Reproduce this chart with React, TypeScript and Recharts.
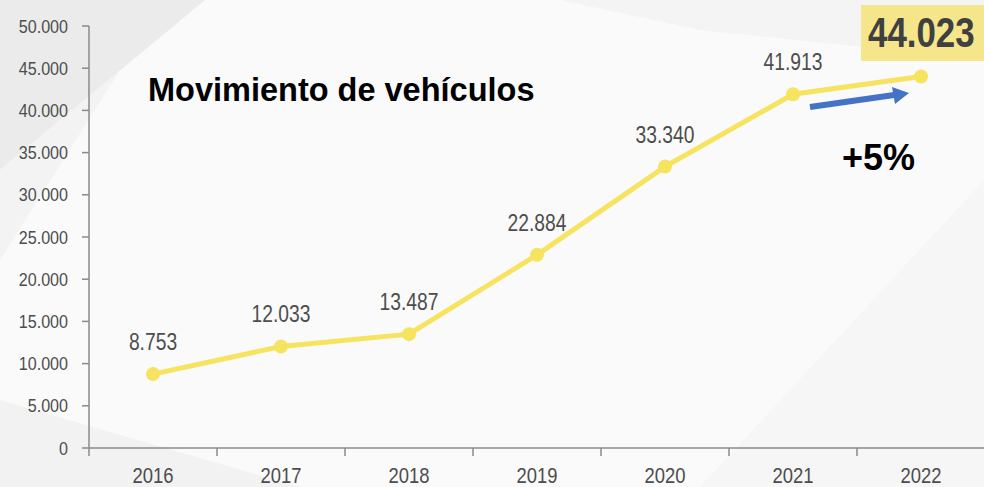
import React from 'react';
import { LineChart, Line, XAxis, YAxis, LabelList } from 'recharts';

const years = ['2016', '2017', '2018', '2019', '2020', '2021', '2022'];
const vehicles = [8753, 12033, 13487, 22884, 33340, 41913, 44023];
const yTicks = [0, 5000, 10000, 15000, 20000, 25000, 30000, 35000, 40000, 45000, 50000];
const growthLabel = '+5%';
const chartTitle = 'Movimiento de vehículos';

const data = years.map((year, i) => ({ year, value: vehicles[i] }));

const W = 984;
const H = 487;
const HALF_BAND = 64;
const FONT = "'Liberation Sans', Arial, sans-serif";
const NARROW = 0.82;
const LINE_COLOR = '#F6E35F';
const AXIS_COLOR = '#8A8A8A';
const TEXT_COLOR = '#4D4D4D';

const fmt = (v: number) => String(v).replace(/\B(?=(\d{3})+(?!\d))/g, '.');

// condensed text: regular font squeezed horizontally
const NarrowText = ({ x, y, size, sx, anchor, children, dy }: any) => (
  <text
    transform={`translate(${x},${y}) scale(${sx},1)`}
    textAnchor={anchor}
    dy={dy}
    fill={TEXT_COLOR}
    fontSize={size}
    fontFamily={FONT}
  >
    {children}
  </text>
);

const XTick = (props: any) => {
  const { x, y, payload, index } = props;
  return (
    <g>
      <line x1={x - HALF_BAND} x2={x - HALF_BAND} y1={y} y2={y + 8} stroke={AXIS_COLOR} strokeWidth={1.5} />
      {index === years.length - 1 && (
        <line x1={x + HALF_BAND} x2={x + HALF_BAND} y1={y} y2={y + 8} stroke={AXIS_COLOR} strokeWidth={1.5} />
      )}
      <NarrowText x={x} y={y + 35} size={22.5} sx={NARROW} anchor="middle">
        {payload.value}
      </NarrowText>
    </g>
  );
};

const YTick = (props: any) => {
  const { x, y, payload } = props;
  return (
    <NarrowText x={x} y={y} size={18.5} sx={0.87} anchor="end" dy="0.355em">
      {fmt(payload.value)}
    </NarrowText>
  );
};

const PointLabel = (props: any) => {
  const { x, y, value, index } = props;
  if (index === vehicles.length - 1) return null;
  return (
    <NarrowText x={x} y={y - 24} size={23.5} sx={NARROW} anchor="middle">
      {fmt(value)}
    </NarrowText>
  );
};

export default function App() {
  return (
    <div style={{ position: 'absolute', left: 0, top: 0, width: W, height: H, overflow: 'hidden', background: '#FAFAFA' }}>
      <svg width={W} height={H} style={{ position: 'absolute', left: 0, top: 0 }}>
        <polygon points="0,0 205,0 0,170" fill="#EBEBEB" />
        <polygon points="0,170 120,70 0,260" fill="#F3F3F3" />
        <polygon points="560,0 984,0 984,60 700,30" fill="#F4F4F4" />
        <polygon points="0,487 0,400 300,487" fill="#F2F2F2" />
        <polygon points="984,487 984,180 700,487" fill="#F6F6F6" />
      </svg>
      <div style={{ position: 'absolute', left: 0, top: 0 }}>
        <LineChart width={W + 1} height={H} data={data} margin={{ top: 26, right: 0, bottom: 0, left: 0 }}>
          <XAxis
            dataKey="year"
            padding={{ left: HALF_BAND, right: HALF_BAND }}
            height={39}
            axisLine={{ stroke: AXIS_COLOR, strokeWidth: 1.5 }}
            tickLine={false}
            tickSize={0}
            tickMargin={0}
            tick={<XTick />}
            interval={0}
          />
          <YAxis
            width={89}
            domain={[0, 50000]}
            ticks={yTicks}
            axisLine={{ stroke: AXIS_COLOR, strokeWidth: 1.5 }}
            tickLine={{ stroke: AXIS_COLOR, strokeWidth: 1.5 }}
            tickSize={7}
            tickMargin={14}
            tick={<YTick />}
            interval={0}
          />
          <Line
            dataKey="value"
            stroke={LINE_COLOR}
            strokeWidth={5}
            dot={{ r: 7, fill: LINE_COLOR, stroke: LINE_COLOR, strokeWidth: 0 }}
            activeDot={false}
            isAnimationActive={false}
          >
            <LabelList dataKey="value" content={<PointLabel />} />
          </Line>
        </LineChart>
      </div>
      <div
        style={{
          position: 'absolute', left: 148, top: 70, fontFamily: FONT,
          fontWeight: 700, fontSize: 32.5, color: '#000', whiteSpace: 'nowrap', lineHeight: '40px',
        }}
      >
        {chartTitle}
      </div>
      <div
        style={{
          position: 'absolute', left: 861, top: 5, width: 130, height: 56, background: '#F5E68C',
          boxSizing: 'border-box', overflow: 'hidden',
        }}
      >
        <span
          style={{
            position: 'absolute', left: 7, top: 4, fontFamily: FONT, fontWeight: 700, fontSize: 42,
            lineHeight: '48px', color: '#404040', transform: 'scaleX(0.83)', transformOrigin: 'left center',
            whiteSpace: 'nowrap',
          }}
        >
          {fmt(vehicles[vehicles.length - 1])}
        </span>
      </div>
      <div
        style={{
          position: 'absolute', left: 842, top: 136, fontFamily: FONT,
          fontWeight: 700, fontSize: 36, color: '#000', lineHeight: '44px',
        }}
      >
        {growthLabel}
      </div>
      <svg width={W} height={H} style={{ position: 'absolute', left: 0, top: 0, pointerEvents: 'none' }}>
        <line x1={810} y1={107} x2={894} y2={95} stroke="#4472C4" strokeWidth={6} />
        <polygon points="909,93 892,87 895,104" fill="#4472C4" />
      </svg>
    </div>
  );
}
